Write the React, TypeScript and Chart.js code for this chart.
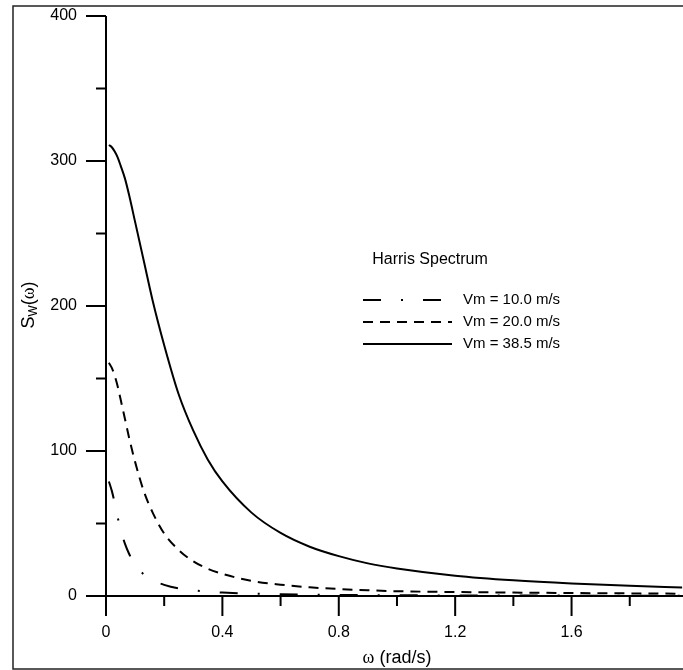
import React, { useEffect, useRef } from "react";
import { Chart, registerables } from "chart.js";

Chart.register(...registerables);

const omega = [0.01, 0.02, 0.03, 0.04, 0.05, 0.065, 0.08, 0.1, 0.13, 0.16, 0.2, 0.25, 0.3, 0.35, 0.4, 0.5, 0.6, 0.7, 0.8, 0.9, 1.0, 1.2, 1.4, 1.6, 1.8, 1.98];
const sVm10 = [79, 72.5, 64, 54.5, 46.2, 36.1, 28.8, 21.6, 14.9, 10.9, 7.7, 5.2, 3.9, 3.0, 2.4, 1.65, 1.22, 0.95, 0.76, 0.63, 0.53, 0.39, 0.31, 0.25, 0.2, 0.17];
const sVm20 = [160.8, 157.3, 151.9, 144.7, 135.8, 122.3, 108.6, 92.5, 72.2, 57.7, 43.1, 31.7, 23.9, 18.8, 15.3, 10.4, 7.8, 6.0, 4.8, 3.95, 3.3, 2.75, 2.35, 2.05, 1.8, 1.6];
const sVm385 = [311, 309.5, 306.5, 302.5, 297, 288, 276, 258, 231, 204, 173, 139, 114, 94, 79, 57.5, 43.5, 34, 27.5, 22.5, 19, 14, 10.8, 8.6, 7, 5.9];

const seriesLabels = ["Vm = 10.0 m/s", "Vm = 20.0 m/s", "Vm = 38.5 m/s"];
const seriesDashes = [[18, 20, 2, 20], [10, 7], []];
const xMajorTicks = [0, 0.4, 0.8, 1.2, 1.6];
const xTickLabels = ["0", "0.4", "0.8", "1.2", "1.6"];
const xMinorTicks = [0.2, 0.6, 1.0, 1.4, 1.8];
const yMajorTicks = [0, 100, 200, 300, 400];
const yTickLabels = ["0", "100", "200", "300", "400"];
const yMinorTicks = [50, 150, 250, 350];
const legendTitle = "Harris Spectrum";
const xTitleSymbol = "ω";
const xTitleText = " (rad/s)";

const FONT = '"Liberation Sans", Arial, sans-serif';
const SERIF = '"Liberation Serif", "Times New Roman", serif';

export default function App() {
  const ref = useRef<HTMLCanvasElement | null>(null);

  useEffect(() => {
    document.body.style.margin = "0";
    const canvas = ref.current;
    if (!canvas) return;

    const series = [sVm10, sVm20, sVm385];
    const datasets = series.map((vals, i) => ({
      label: seriesLabels[i],
      data: omega.map((w, j) => ({ x: w, y: vals[j] })),
      borderColor: "#000",
      borderWidth: 2,
      borderDash: seriesDashes[i],
      pointRadius: 0,
      fill: false,
      cubicInterpolationMode: "monotone" as const,
    }));

    const decor = {
      id: "decor",
      afterDraw(chart: any) {
        const ctx = chart.ctx as CanvasRenderingContext2D;
        const xs = chart.scales.x;
        const ys = chart.scales.y;
        const area = chart.chartArea;
        ctx.save();
        // outer frame
        ctx.strokeStyle = "#222";
        ctx.lineWidth = 1.5;
        ctx.strokeRect(13, 6, 700, 663);

        ctx.strokeStyle = "#000";
        ctx.lineWidth = 2;
        const x0 = xs.getPixelForValue(0);
        const y0 = ys.getPixelForValue(0);
        // axes
        ctx.beginPath();
        ctx.moveTo(x0, ys.getPixelForValue(400));
        ctx.lineTo(x0, y0);
        ctx.moveTo(x0 - 20, y0);
        ctx.lineTo(area.right, y0);
        ctx.stroke();
        // ticks
        ctx.beginPath();
        yMajorTicks.forEach((v) => {
          const p = ys.getPixelForValue(v);
          ctx.moveTo(x0 - 20, p);
          ctx.lineTo(x0, p);
        });
        yMinorTicks.forEach((v) => {
          const p = ys.getPixelForValue(v);
          ctx.moveTo(x0 - 10, p);
          ctx.lineTo(x0, p);
        });
        xMajorTicks.forEach((v) => {
          const p = xs.getPixelForValue(v);
          ctx.moveTo(p, y0);
          ctx.lineTo(p, y0 + 20);
        });
        xMinorTicks.forEach((v) => {
          const p = xs.getPixelForValue(v);
          ctx.moveTo(p, y0);
          ctx.lineTo(p, y0 + 10);
        });
        ctx.stroke();

        // tick labels
        ctx.fillStyle = "#000";
        ctx.font = `16px ${FONT}`;
        ctx.textAlign = "right";
        ctx.textBaseline = "middle";
        yMajorTicks.forEach((v, i) => {
          ctx.fillText(yTickLabels[i], x0 - 29, ys.getPixelForValue(v));
        });
        ctx.textAlign = "center";
        xMajorTicks.forEach((v, i) => {
          ctx.fillText(xTickLabels[i], xs.getPixelForValue(v), y0 + 37);
        });

        // x title: omega (serif) + (rad/s)
        const cxTitle = (xs.getPixelForValue(0) + xs.getPixelForValue(2.0)) / 2;
        ctx.font = `18px ${SERIF}`;
        const wOm = ctx.measureText(xTitleSymbol).width;
        ctx.font = `18px ${FONT}`;
        const wRest = ctx.measureText(xTitleText).width;
        let tx = cxTitle - (wOm + wRest) / 2;
        ctx.textAlign = "left";
        ctx.font = `18px ${SERIF}`;
        ctx.fillText(xTitleSymbol, tx, 658);
        ctx.font = `18px ${FONT}`;
        ctx.fillText(xTitleText, tx + wOm, 658);

        // y title rotated
        ctx.save();
        ctx.translate(29, 305);
        ctx.rotate(-Math.PI / 2);
        ctx.textAlign = "left";
        ctx.textBaseline = "middle";
        const big = `18px ${FONT}`;
        const small = `12px ${FONT}`;
        const sym = `18px ${SERIF}`;
        ctx.font = big;
        const wS = ctx.measureText("S").width;
        const wPo = ctx.measureText("(").width;
        const wPc = ctx.measureText(")").width;
        ctx.font = sym;
        const wO = ctx.measureText("ω").width;
        ctx.font = small;
        const wW = ctx.measureText("W").width;
        let cx = -(wS + wW + wPo + wO + wPc) / 2;
        ctx.font = big;
        ctx.fillText("S", cx, 0);
        cx += wS;
        ctx.font = small;
        ctx.fillText("W", cx, 5);
        cx += wW;
        ctx.font = big;
        ctx.fillText("(", cx, 0);
        cx += wPo;
        ctx.font = sym;
        ctx.fillText("ω", cx, 0);
        cx += wO;
        ctx.font = big;
        ctx.fillText(")", cx, 0);
        ctx.restore();

        // legend
        ctx.font = `16px ${FONT}`;
        ctx.textAlign = "center";
        ctx.fillText(legendTitle, 430, 260);
        ctx.font = `15px ${FONT}`;
        ctx.textAlign = "left";
        const rows = [300, 322, 344];
        rows.forEach((ry, i) => {
          ctx.beginPath();
          ctx.setLineDash(seriesDashes[i]);
          ctx.lineWidth = 2;
          ctx.moveTo(363, ry);
          ctx.lineTo(452, ry);
          ctx.stroke();
          ctx.setLineDash([]);
          ctx.fillText(seriesLabels[i], 463, ry);
        });
        ctx.restore();
      },
    };

    const chart = new Chart(canvas, {
      type: "line",
      data: { datasets },
      options: {
        animation: false,
        responsive: false,
        maintainAspectRatio: false,
        layout: { padding: { left: 106, top: 16, right: 0, bottom: 74 } },
        plugins: { legend: { display: false }, tooltip: { enabled: false } },
        scales: {
          x: { type: "linear", min: 0, max: 1.983, display: false },
          y: { type: "linear", min: 0, max: 400, display: false },
        },
      },
      plugins: [decor],
    });
    return () => chart.destroy();
  }, []);

  return (
    <div style={{ width: 683, height: 670, overflow: "hidden", background: "#fff" }}>
      <canvas ref={ref} width={683} height={670} style={{ display: "block" }} />
    </div>
  );
}
